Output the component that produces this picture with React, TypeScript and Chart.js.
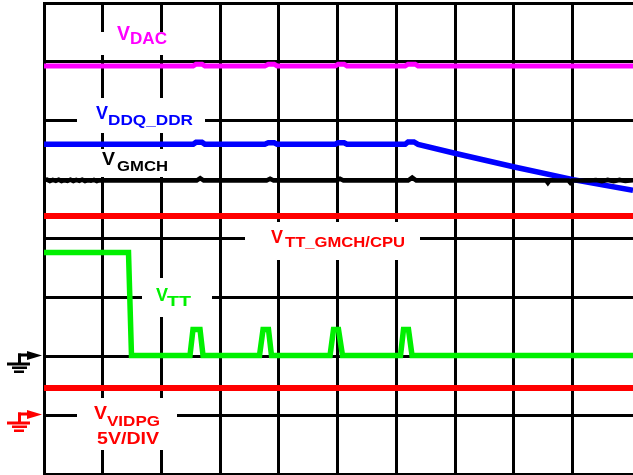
import React, { useEffect, useRef } from "react";
import { Chart, registerables } from "chart.js";

Chart.register(...registerables);

// ---- Trace data (x in horizontal divisions, y in vertical divisions) ----
const vdacX = [0, 2.54, 2.59, 2.69, 2.74, 3.76, 3.82, 3.92, 3.97, 4.96, 5.01, 5.11, 5.16, 6.15, 6.2, 6.32, 6.37, 10.03];
const vdacY = [6.93, 6.93, 6.96, 6.96, 6.93, 6.93, 6.96, 6.96, 6.93, 6.93, 6.96, 6.96, 6.93, 6.93, 6.96, 6.96, 6.93, 6.93];

const vddqX = [0, 2.54, 2.59, 2.69, 2.74, 3.76, 3.82, 3.92, 3.97, 4.96, 5.01, 5.11, 5.16, 6.15, 6.2, 6.3, 6.37, 7.03, 8.03, 9.01, 10.03];
const vddqY = [5.6, 5.6, 5.635, 5.635, 5.6, 5.6, 5.625, 5.625, 5.6, 5.6, 5.625, 5.625, 5.6, 5.6, 5.64, 5.64, 5.6, 5.44, 5.21, 5.0, 4.82];

const vgmchX = [0, 0.05, 0.1, 0.15, 0.2, 0.25, 0.3, 0.35, 0.4, 0.45, 0.5, 0.55, 0.6, 0.65, 0.7, 0.75, 0.8, 0.85, 0.9, 0.95, 1.0, 2.6, 2.66, 2.72, 3.79, 3.85, 3.91, 4.98, 5.04, 5.1, 6.2, 6.27, 6.34, 8.55, 8.58, 8.61, 8.93, 8.96, 8.99, 9.3, 9.4, 9.5, 9.6, 9.7, 9.8, 9.9, 10.03];
const vgmchY = [4.99, 5.0, 4.975, 4.995, 4.98, 5.0, 4.975, 4.99, 4.98, 5.0, 4.975, 4.995, 4.98, 5.0, 4.975, 4.99, 4.98, 4.995, 4.975, 4.99, 4.985, 4.985, 5.025, 4.985, 4.985, 5.015, 4.985, 4.985, 5.015, 4.985, 4.985, 5.035, 4.985, 4.985, 4.945, 4.985, 4.985, 4.95, 4.985, 4.985, 4.995, 4.975, 4.995, 4.975, 4.995, 4.975, 4.99];

const vttCpuX = [0, 10.03];
const vttCpuY = [4.382, 4.382];

const vttX = [0, 1.439, 1.49, 2.486, 2.537, 2.657, 2.708, 3.67, 3.73, 3.823, 3.874, 4.871, 4.93, 5.015, 5.083, 6.071, 6.122, 6.207, 6.267, 10.03];
const vttY = [3.762, 3.762, 2.013, 2.013, 2.454, 2.454, 2.013, 2.013, 2.454, 2.454, 2.013, 2.013, 2.454, 2.454, 2.013, 2.013, 2.454, 2.454, 2.013, 2.013];

const vidpgX = [0, 10.03];
const vidpgY = [1.461, 1.461];

const xGridTicks = [0, 1, 2, 3, 4, 5, 6, 7, 8, 9];
const yGridTicks = [0, 1, 2, 3, 4, 5, 6, 7, 8];

// ground reference levels (divisions) for the markers on the left
const groundLevels = [2, 1];
const groundColors = ["#000000", "#ff0000"];

// ---- Label texts ----
const labelMain = ["V", "V", "V", "V", "V", "V"];
const labelSub = ["DAC", "DDQ_DDR", "GMCH", "TT_GMCH/CPU", "TT", "VIDPG"];
const labelColors = ["#ff00ff", "#0000ff", "#000000", "#ff0000", "#00f000", "#ff0000"];
const extraText = "5V/DIV";

function zip(xs: number[], ys: number[]) {
  return xs.map((x, i) => ({ x, y: ys[i] }));
}

const FONT = '"Liberation Sans", Arial, sans-serif';

function drawFit(ctx: CanvasRenderingContext2D, text: string, x: number, baseline: number, size: number, width: number, color: string) {
  ctx.save();
  ctx.font = `bold ${size}px ${FONT}`;
  ctx.fillStyle = color;
  ctx.textBaseline = "alphabetic";
  ctx.textAlign = "left";
  const w = ctx.measureText(text).width || 1;
  ctx.translate(x, baseline);
  ctx.scale(width / w, 1);
  ctx.fillText(text, 0, 0);
  ctx.restore();
}

// layout of label boxes (white backgrounds hiding grid) and texts
const boxes = [
  { x: 77, y: 32, w: 128, h: 23 },
  { x: 77, y: 98, w: 128, h: 35 },
  { x: 77, y: 149, w: 128, h: 28 },
  { x: 245, y: 222, w: 175, h: 38 },
  { x: 142, y: 278, w: 70, h: 39 },
  { x: 77, y: 398, w: 100, h: 52 },
];
const textLayout = [
  { vx: 117, vb: 40, vs: 20, vw: 13, sx: 130, sb: 44, ss: 16.5, sw: 37 },
  { vx: 96, vb: 119, vs: 18.5, vw: 12, sx: 108, sb: 125, ss: 15, sw: 85 },
  { vx: 102, vb: 165, vs: 18.5, vw: 13, sx: 117, sb: 171, ss: 15, sw: 51 },
  { vx: 271, vb: 243, vs: 17.5, vw: 12, sx: 285, sb: 247, ss: 14.5, sw: 120 },
  { vx: 156, vb: 301, vs: 19, vw: 12, sx: 167, sb: 306, ss: 15.5, sw: 24 },
  { vx: 94, vb: 419, vs: 17.5, vw: 13, sx: 107, sb: 426, ss: 15.5, sw: 53 },
];

const overlayPlugin = {
  id: "scopeOverlay",
  beforeDatasetsDraw(chart: any) {
    const ctx = chart.ctx as CanvasRenderingContext2D;
    ctx.save();
    ctx.fillStyle = "#ffffff";
    for (const b of boxes) ctx.fillRect(b.x, b.y, b.w, b.h);
    ctx.restore();
  },
  afterDatasetsDraw(chart: any) {
    const ctx = chart.ctx as CanvasRenderingContext2D;
    textLayout.forEach((t, i) => {
      drawFit(ctx, labelMain[i], t.vx, t.vb, t.vs, t.vw, labelColors[i]);
      drawFit(ctx, labelSub[i], t.sx, t.sb, t.ss, t.sw, labelColors[i]);
    });
    drawFit(ctx, extraText, 97, 444, 17, 62, "#ff0000");
  },
  afterDraw(chart: any) {
    const ctx = chart.ctx as CanvasRenderingContext2D;
    const yScale = chart.scales.y;
    const tipX = chart.chartArea.left - 2;
    groundLevels.forEach((lvl, i) => {
      const ty = Math.round(yScale.getPixelForValue(lvl)) - 0.5;
      ctx.save();
      ctx.fillStyle = groundColors[i];
      ctx.beginPath();
      ctx.moveTo(tipX - 15, ty - 4.5);
      ctx.lineTo(tipX, ty);
      ctx.lineTo(tipX - 15, ty + 4.5);
      ctx.closePath();
      ctx.fill();
      ctx.fillRect(tipX - 24, ty - 2, 10, 3);
      ctx.fillRect(tipX - 24, ty - 2, 3, 10);
      ctx.fillRect(tipX - 35, ty + 7, 23, 3);
      ctx.fillRect(tipX - 30, ty + 11, 15, 2.5);
      ctx.fillRect(tipX - 28, ty + 15, 10, 2.5);
      ctx.restore();
    });
  },
};

export default function App() {
  const ref = useRef<HTMLCanvasElement | null>(null);

  useEffect(() => {
    document.body.style.margin = "0";
    const canvas = ref.current;
    if (!canvas) return;
    const line = (data: { x: number; y: number }[], color: string, width: number) => ({
      data,
      borderColor: color,
      backgroundColor: color,
      borderWidth: width,
      pointRadius: 0,
      tension: 0,
      fill: false,
    });
    const gridOpts = {
      color: "#000000",
      lineWidth: 3,
      drawTicks: false,
    };
    const chart = new Chart(canvas, {
      type: "line",
      data: {
        datasets: [
          line(zip(vidpgX, vidpgY), "#ff0000", 6),
          line(zip(vttCpuX, vttCpuY), "#ff0000", 6),
          line(zip(vgmchX, vgmchY), "#000000", 4.5),
          line(zip(vddqX, vddqY), "#0000ff", 5.5),
          line(zip(vdacX, vdacY), "#ff00ff", 5),
          line(zip(vttX, vttY), "#00f000", 5.5),
        ] as any,
      },
      options: {
        animation: false,
        responsive: false,
        devicePixelRatio: 1,
        layout: { padding: { left: 44, top: 3, right: 0, bottom: 1 } },
        plugins: { legend: { display: false }, tooltip: { enabled: false } },
        scales: {
          x: {
            type: "linear",
            min: 0,
            max: 10.03,
            afterBuildTicks: (scale: any) => {
              scale.ticks = xGridTicks.map((v) => ({ value: v }));
            },
            ticks: { display: false },
            grid: gridOpts,
            border: { display: true, color: "#000000", width: 3 },
          },
          y: {
            type: "linear",
            min: 0,
            max: 8,
            afterBuildTicks: (scale: any) => {
              scale.ticks = yGridTicks.map((v) => ({ value: v }));
            },
            ticks: { display: false },
            grid: gridOpts,
            border: { display: true, color: "#000000", width: 3 },
          },
        },
      } as any,
      plugins: [overlayPlugin],
    });
    return () => chart.destroy();
  }, []);

  return (
    <div style={{ width: 633, height: 475, background: "#ffffff" }}>
      <canvas ref={ref} width={633} height={475} style={{ display: "block" }} />
    </div>
  );
}
